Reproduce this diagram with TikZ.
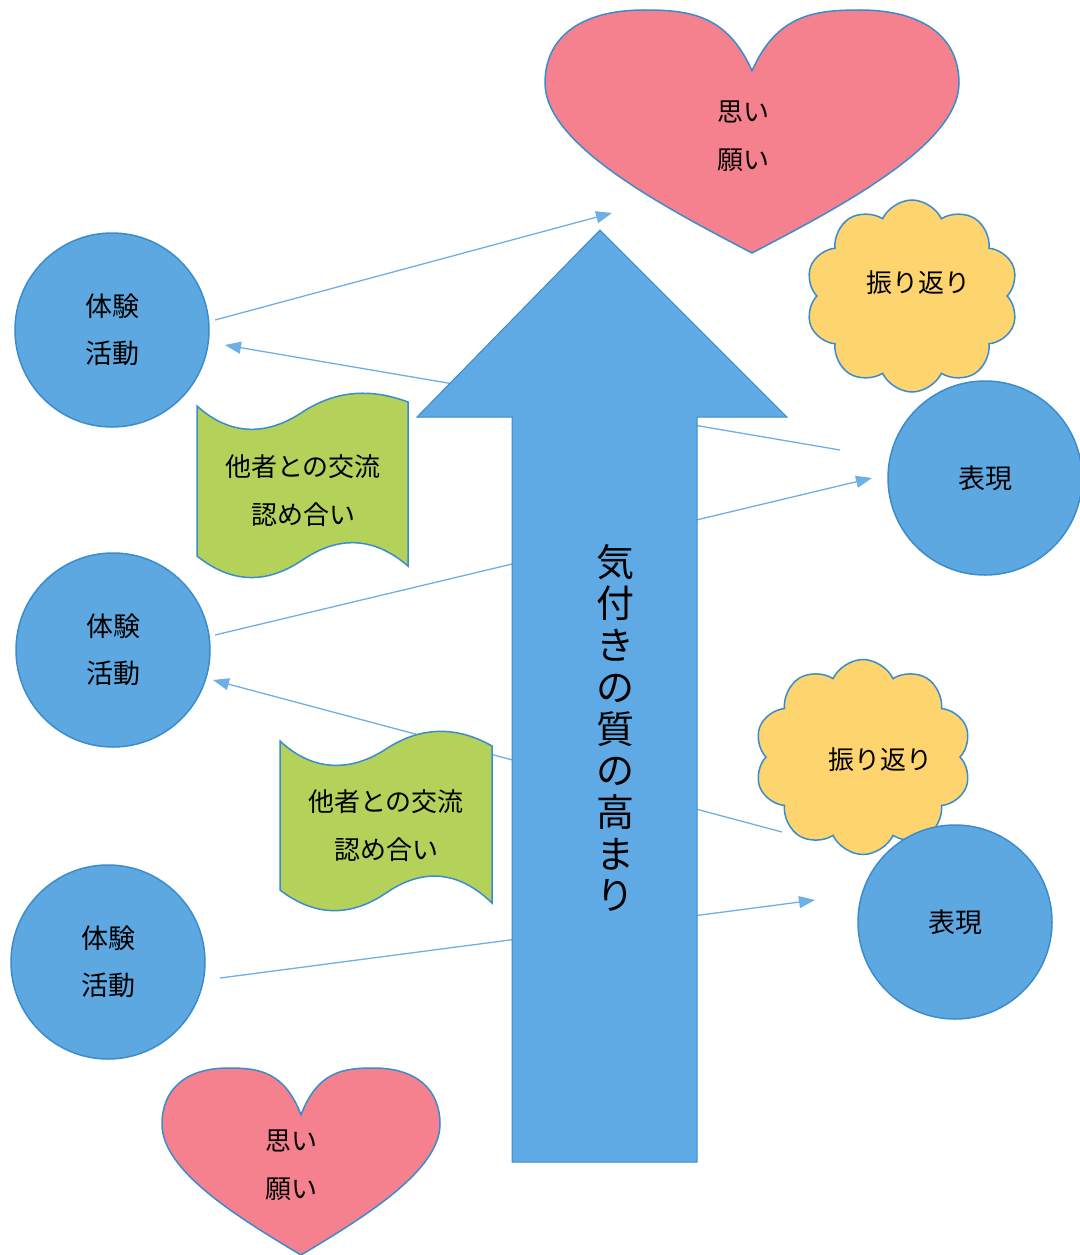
\documentclass[tikz,border=0pt]{standalone}
\usepackage{fontspec}
\setmainfont{Noto Sans CJK JP}
\usetikzlibrary{shapes.symbols,arrows.meta}
\definecolor{cblue}{RGB}{94,168,226}
\definecolor{cedge}{RGB}{58,140,205}
\definecolor{lline}{RGB}{110,175,230}
\definecolor{heartc}{RGB}{245,128,142}
\definecolor{bannerc}{RGB}{180,210,90}
\definecolor{cloudc}{RGB}{253,212,110}
\definecolor{arrowc}{RGB}{95,170,228}
\begin{document}
\begin{tikzpicture}[x=1pt,y=-1pt,
  circ/.style={circle,fill=cblue,draw=cedge,line width=1.5pt,minimum size=194pt,inner sep=0pt,align=center,font=\fontsize{27}{47}\selectfont},
  conn/.style={draw=lline,line width=1.3pt},
  tipto/.style={-{Triangle[length=16pt,width=12pt,fill=lline]}},
  shapeline/.style={draw=cedge,line width=1.5pt},
  lbl/.style={align=center,inner sep=0pt,font=\fontsize{26}{48}\selectfont},
  cloudbox/.style={cloud,cloud puffs=10,cloud puff arc=130,cloud ignores aspect,fill=cloudc,draw=cedge,line width=1.5pt,inner sep=0pt,font=\fontsize{26}{30}\selectfont}
]
\useasboundingbox (0,0) rectangle (1079,1255);

% connector end points
\coordinate (l1s) at (215,320); \coordinate (l1e) at (612,213);
\coordinate (l2s) at (840,450); \coordinate (l2e) at (225,345);
\coordinate (l3s) at (215,635); \coordinate (l3e) at (872,478);
\coordinate (l4s) at (782,832); \coordinate (l4e) at (213,680);
\coordinate (l5s) at (220,978); \coordinate (l5e) at (815,900);

\draw[conn,tipto] (l1s) -- (l1e);
\draw[conn,tipto] (l2s) -- (l2e);
\draw[conn,tipto] (l3s) -- (l3e);
\draw[conn,tipto] (l4s) -- (l4e);
\draw[conn,tipto] (l5s) -- (l5e);

% big arrow
\draw[fill=arrowc,draw=cedge,line width=1pt] (512,1162) -- (512,417) -- (417,417) -- (600,230) -- (787,417) -- (697,417) -- (697,1162) -- cycle;
\node[align=center,inner sep=0pt,font=\fontsize{38}{41.7}\selectfont] (kizuki) at (615,728) {気\\付\\き\\の\\質\\の\\高\\ま\\り};

% top heart
\begin{scope}[shift={(752,10)},xscale=207,yscale=243]
\draw[fill=heartc,draw=cedge,line width=1.5pt] (0,0.25) .. controls (-0.12,0.02) and (-0.3,0) .. (-0.52,0) .. controls (-0.84,0) and (-1,0.12) .. (-1,0.3) .. controls (-1,0.55) and (-0.45,0.8) .. (0,1) .. controls (0.45,0.8) and (1,0.55) .. (1,0.3) .. controls (1,0.12) and (0.84,0) .. (0.52,0) .. controls (0.3,0) and (0.12,0.02) .. (0,0.25) -- cycle;
\end{scope}
\node[lbl] (heartA) at (743,136) {思い\\願い};

% bottom heart
\begin{scope}[shift={(301,1068)},xscale=139,yscale=187]
\draw[fill=heartc,draw=cedge,line width=1.5pt] (0,0.25) .. controls (-0.12,0.02) and (-0.3,0) .. (-0.52,0) .. controls (-0.84,0) and (-1,0.12) .. (-1,0.3) .. controls (-1,0.55) and (-0.45,0.8) .. (0,1) .. controls (0.45,0.8) and (1,0.55) .. (1,0.3) .. controls (1,0.12) and (0.84,0) .. (0.52,0) .. controls (0.3,0) and (0.12,0.02) .. (0,0.25) -- cycle;
\end{scope}
\node[lbl] (heartB) at (291,1165) {思い\\願い};

% banners
\draw[fill=bannerc,shapeline] (197,406) .. controls (230,436) and (267,436) .. (302.5,412) .. controls (338,389) and (373,389) .. (408,402) -- (408,566) .. controls (373,536) and (338,536) .. (302.5,560) .. controls (267,584) and (232,584) .. (197,556) -- cycle;
\node[lbl] (banA) at (303,491) {他者との交流\\認め合い};
\draw[fill=bannerc,shapeline] (280,741) .. controls (313,772) and (351,772) .. (386,749) .. controls (421,726) and (457,726) .. (492,746) -- (492,903) .. controls (457,869) and (421,869) .. (386,893) .. controls (351,917) and (315,917) .. (280,890) -- cycle;
\node[lbl] (banB) at (386,826) {他者との交流\\認め合い};

% clouds
\node[cloudbox,minimum width=213pt,minimum height=192pt] (cloudA) at (912,296) {};
\node[lbl] (cloudAt) at (918,283) {振り返り};
\node[cloudbox,minimum width=217pt,minimum height=195pt] (cloudB) at (863,757) {};
\node[lbl] (cloudBt) at (880,760) {振り返り};

% circles
\node[circ] (exp1) at (112,330) {体験\\活動};
\node[circ] (exp2) at (113,650) {体験\\活動};
\node[circ] (exp3) at (108,962) {体験\\活動};
\node[circ] (hyo1) at (985,478) {表現};
\node[circ] (hyo2) at (955,922) {表現};
\end{tikzpicture}
\end{document}
